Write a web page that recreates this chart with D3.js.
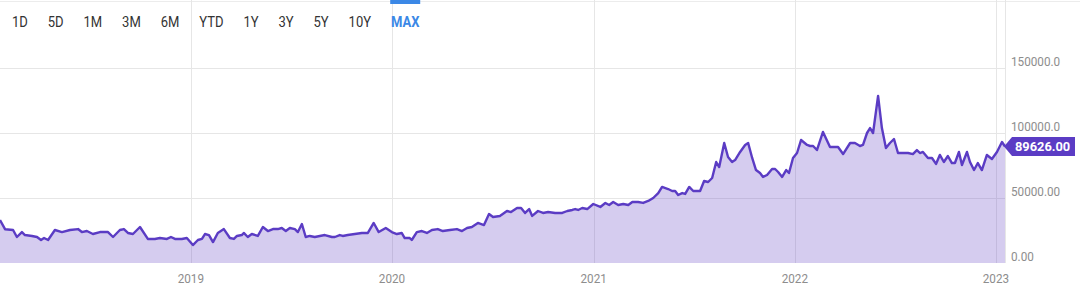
<!DOCTYPE html>
<html>
<head>
<meta charset="utf-8">
<script src="https://cdn.jsdelivr.net/npm/d3@7"></script>
<style>
  html, body { margin: 0; padding: 0; background: #fff; }
  svg { display: block; font-family: Roboto, "Noto Sans", sans-serif; }
</style>
</head>
<body>
<div id="chart"></div>
<script>
// range buttons shown above the chart
const ranges = ["1D", "5D", "1M", "3M", "6M", "YTD", "1Y", "3Y", "5Y", "10Y", "MAX"];
const activeRange = "MAX";

const yearTicks = [2019, 2020, 2021, 2022, 2023];
const yTicks = [0, 50000, 100000, 150000];
const yTickLabels = ["0.00", "50000.00", "100000.0", "150000.0"];
const lastLabel = "89626.00";

// dates as decimal years (rows of 10 line up)
const times = [
  2018.051, 2018.076, 2018.116, 2018.135, 2018.160, 2018.175, 2018.210, 2018.235, 2018.255, 2018.270,
  2018.290, 2018.324, 2018.359, 2018.399, 2018.439, 2018.458, 2018.483, 2018.513, 2018.548, 2018.588,
  2018.613, 2018.647, 2018.667, 2018.687, 2018.712, 2018.747, 2018.786, 2018.821, 2018.846, 2018.881,
  2018.901, 2018.921, 2018.955, 2018.980, 2019.010, 2019.035, 2019.055,
  2019.070, 2019.090, 2019.110, 2019.134, 2019.164, 2019.194, 2019.214, 2019.229, 2019.253, 2019.263,
  2019.283, 2019.303, 2019.333, 2019.358, 2019.383, 2019.408, 2019.432, 2019.452, 2019.472, 2019.492,
  2019.517, 2019.532, 2019.552, 2019.571, 2019.591, 2019.616, 2019.641, 2019.666, 2019.701, 2019.716,
  2019.740, 2019.755, 2019.780, 2019.815, 2019.850, 2019.880, 2019.909, 2019.934, 2019.969, 2019.999,
  2020.024, 2020.048, 2020.063, 2020.088, 2020.098, 2020.123, 2020.148, 2020.173, 2020.198, 2020.227,
  2020.252, 2020.287, 2020.322, 2020.347, 2020.372, 2020.396, 2020.426, 2020.456, 2020.481, 2020.501,
  2020.535, 2020.570, 2020.590, 2020.620, 2020.640, 2020.660, 2020.680, 2020.695, 2020.724, 2020.749,
  2020.774, 2020.809, 2020.844, 2020.869, 2020.894, 2020.908, 2020.923, 2020.943, 2020.968, 2020.998,
  2021.033, 2021.058, 2021.077, 2021.097, 2021.122, 2021.147, 2021.172, 2021.192, 2021.221, 2021.246,
  2021.271, 2021.296, 2021.321, 2021.340, 2021.370, 2021.390, 2021.405, 2021.420, 2021.440, 2021.455,
  2021.475, 2021.495, 2021.529, 2021.549, 2021.569, 2021.589, 2021.609, 2021.624, 2021.649, 2021.668,
  2021.688, 2021.703, 2021.728, 2021.753, 2021.768, 2021.788, 2021.807, 2021.827, 2021.842, 2021.862,
  2021.887, 2021.902, 2021.917, 2021.937, 2021.957, 2021.971, 2021.991,
  2022.011, 2022.031, 2022.061, 2022.076, 2022.091, 2022.110, 2022.140, 2022.175, 2022.195, 2022.215,
  2022.240, 2022.275, 2022.299, 2022.324, 2022.339, 2022.359, 2022.374, 2022.389, 2022.414, 2022.433,
  2022.453, 2022.473, 2022.493, 2022.513, 2022.538, 2022.563, 2022.587, 2022.607, 2022.622, 2022.637,
  2022.662, 2022.682, 2022.702, 2022.721, 2022.741, 2022.761, 2022.781, 2022.796, 2022.816, 2022.831,
  2022.856, 2022.871, 2022.891, 2022.910, 2022.930, 2022.955, 2022.980, 2023.005, 2023.030, 2023.045
];
const values = [
  33000, 26000, 25400, 20000, 23800, 21500, 20800, 20000, 17700, 19200,
  17700, 25400, 23800, 25400, 26100, 23800, 24600, 22300, 23800, 23800,
  20000, 25400, 26100, 23100, 22300, 27700, 18500, 18500, 19200, 18500,
  20000, 18500, 18500, 19200, 13800, 17700, 18500,
  22300, 21500, 16100, 23100, 26100, 19200, 18500, 20800, 21500, 23100,
  20000, 22300, 20800, 27700, 24600, 26100, 26100, 26900, 24600, 26900,
  26100, 23800, 30000, 20000, 20800, 20000, 20800, 21500, 20000, 20000,
  21500, 20800, 21500, 22300, 23100, 23100, 30800, 23800, 26900, 23800,
  22300, 23100, 19200, 19200, 17700, 23800, 24600, 23100, 25400, 26100,
  24600, 25400, 26100, 24600, 26900, 27700, 30800, 29200, 37700, 35400,
  36200, 40000, 39200, 42300, 42300, 38500, 41500, 36200, 40000, 38500,
  39200, 38500, 38500, 40000, 40800, 41500, 40800, 42300, 41500, 45400,
  43100, 46200, 44600, 46900, 44600, 45400, 44600, 46900, 46900, 46200,
  47700, 50000, 53800, 58500, 56900, 55400, 55400, 52300, 53800, 53100,
  58500, 55400, 55400, 63100, 62300, 65400, 77700, 73800, 92300, 81500,
  77700, 79200, 85400, 90800, 92300, 80800, 71500, 69200, 66200, 67700,
  72300, 72300, 70000, 66200, 71500, 69200, 80800,
  84600, 94600, 90800, 90000, 90000, 86900, 100800, 89200, 89200, 89200,
  83800, 92300, 92300, 90000, 90800, 100000, 103800, 100000, 128500, 103800,
  88500, 92300, 95400, 84600, 84600, 84600, 83800, 86900, 84600, 85400,
  80800, 80800, 76200, 83100, 77700, 82300, 76900, 76900, 85400, 75400,
  85400, 77700, 71500, 76900, 71500, 83100, 80000, 85400, 93100, 89626
];

const width = 1080, height = 307;
const plot = { left: 0, right: 1005, top: 68, bottom: 263 };
const lineColor = "#5b3cc4";

const toDate = t => {
  const yr = Math.floor(t);
  const s = Date.UTC(yr, 0, 1), e = Date.UTC(yr + 1, 0, 1);
  return new Date(s + (t - yr) * (e - s));
};

const data = times.map((t, i) => ({ date: toDate(t), value: values[i] }));

// squeeze text a little, the reference font is narrower than Roboto
function condense(sel, k) {
  sel.each(function () {
    const w = this.getComputedTextLength();
    this.setAttribute("textLength", w * k);
    this.setAttribute("lengthAdjust", "spacingAndGlyphs");
  });
}

const svg = d3.select("#chart").append("svg")
  .attr("width", width)
  .attr("height", height);

const x = d3.scaleUtc()
  .domain(d3.extent(data, d => d.date))
  .range([plot.left, plot.right]);

const y = d3.scaleLinear()
  .domain([0, 150000])
  .range([plot.bottom, plot.top]);

// grid
const grid = svg.append("g").attr("stroke", "#e6e6e6").attr("stroke-width", 1);
grid.append("line")
  .attr("x1", 0).attr("x2", width).attr("y1", 1.5).attr("y2", 1.5)
  .attr("stroke", "#ececec");
grid.selectAll(".hg")
  .data(yTicks.slice(1))
  .join("line")
  .attr("x1", plot.left).attr("x2", plot.right)
  .attr("y1", d => Math.round(y(d)) + 0.5).attr("y2", d => Math.round(y(d)) + 0.5);
grid.selectAll(".vg")
  .data(yearTicks)
  .join("line")
  .attr("x1", d => Math.round(x(new Date(Date.UTC(d, 0, 1)))) + 0.5)
  .attr("x2", d => Math.round(x(new Date(Date.UTC(d, 0, 1)))) + 0.5)
  .attr("y1", 0).attr("y2", plot.bottom);
grid.append("line")
  .attr("x1", plot.right + 0.5).attr("x2", plot.right + 0.5)
  .attr("y1", 0).attr("y2", plot.bottom);

// area + line
svg.append("path")
  .datum(data)
  .attr("fill", "rgba(101, 68, 196, 0.27)")
  .attr("d", d3.area().x(d => x(d.date)).y0(y(0)).y1(d => y(d.value)));

svg.append("path")
  .datum(data)
  .attr("fill", "none")
  .attr("stroke", lineColor)
  .attr("stroke-width", 2.4)
  .attr("stroke-linejoin", "round")
  .attr("d", d3.line().x(d => x(d.date)).y(d => y(d.value)));

// y labels on the right
svg.append("g")
  .selectAll("text")
  .data(yTicks)
  .join("text")
  .attr("x", 1011)
  .attr("y", d => y(d) - 2.5)
  .attr("font-size", 13)
  .attr("fill", "#8d8d8d")
  .text((d, i) => yTickLabels[i])
  .call(condense, 0.9);

// x labels
svg.append("g")
  .selectAll("text")
  .data(yearTicks)
  .join("text")
  .attr("x", d => x(new Date(Date.UTC(d, 0, 1))))
  .attr("y", 283)
  .attr("text-anchor", "middle")
  .attr("font-size", 13)
  .attr("fill", "#8d8d8d")
  .text(d => d)
  .call(condense, 0.9);

// last value flag
const last = data[data.length - 1];
const ly = y(last.value), lx = x(last.date);
svg.append("path")
  .attr("fill", lineColor)
  .attr("d", `M${lx - 1},${ly} L${lx + 7},${ly - 9.5} H${lx + 70} V${ly + 9.5} H${lx + 7} Z`);
svg.append("text")
  .attr("x", lx + 10)
  .attr("y", ly + 5)
  .attr("font-size", 13.5)
  .attr("font-weight", "bold")
  .attr("fill", "#fff")
  .text(lastLabel)
  .call(condense, 0.95);

// range buttons
const btn = svg.append("g");
const btnText = btn.selectAll("text")
  .data(ranges)
  .join("text")
  .attr("y", 26.5)
  .attr("text-anchor", "middle")
  .attr("font-size", 14)
  .attr("font-weight", d => d === activeRange ? "bold" : "normal")
  .attr("fill", d => d === activeRange ? "#3b88e6" : "#333")
  .text(d => d)
  .call(condense, 0.93);

let cursor = 12;
btnText.each(function (d) {
  const w = +this.getAttribute("textLength");
  const cx = cursor + w / 2;
  d3.select(this).attr("x", cx);
  if (d === activeRange) {
    btn.append("rect")
      .attr("x", cx - 15).attr("y", 0)
      .attr("width", 30).attr("height", 4)
      .attr("fill", "#3b88e6");
  }
  cursor += w + 19.9;
});
</script>
</body>
</html>
